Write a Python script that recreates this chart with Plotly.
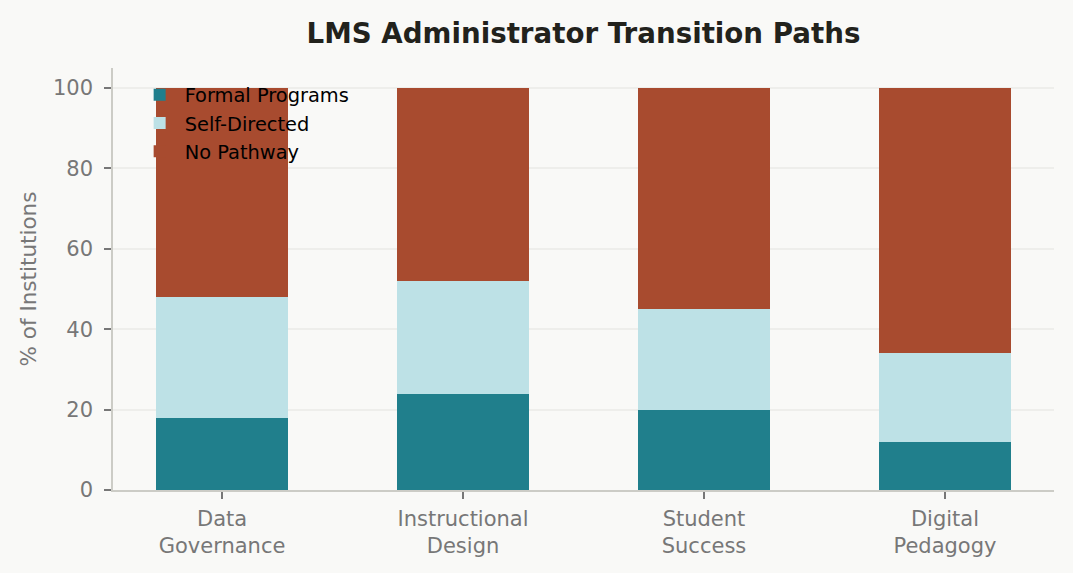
import plotly.graph_objects as go

categories = ["Data<br>Governance", "Instructional<br>Design", "Student<br>Success", "Digital<br>Pedagogy"]
formal_programs = [18, 24, 20, 12]
self_directed = [30, 28, 25, 22]
no_pathway = [52, 48, 55, 66]

series = [
    ("Formal Programs", formal_programs, "#207F8C"),
    ("Self-Directed", self_directed, "#BDE1E6"),
    ("No Pathway", no_pathway, "#A84B2F"),
]

fig = go.Figure()
for i, (name, vals, color) in enumerate(series):
    fig.add_trace(go.Bar(
        x=list(range(len(categories))), y=vals, name=name,
        marker=dict(color=color, line=dict(width=0)),
        width=0.55, legendgroup=f"g{i}",
    ))

fig.update_layout(
    barmode="stack",
    width=1073, height=573,
    margin=dict(l=113, r=19, t=68, b=83),
    paper_bgcolor="#F9F9F7", plot_bgcolor="#F9F9F7",
    font=dict(family="DejaVu Sans", color="#777777", size=21),
    title=dict(text="<b>LMS Administrator Transition Paths</b>", x=0.5, xanchor="center",
               xref="paper",
               y=1 - 33 / 573, yanchor="middle",
               font=dict(size=27.7, color="#22221C", family="DejaVu Sans")),
    legend=dict(x=0.023, y=0.982, xanchor="left", yanchor="top", bgcolor="rgba(0,0,0,0)",
                font=dict(size=19.4, color="#000000"), traceorder="normal",
                tracegroupgap=4, itemwidth=40),
    showlegend=True,
    bargap=0,
)
fig.update_xaxes(
    range=[-0.4525, 3.4525], tickmode="array", tickvals=list(range(len(categories))),
    ticktext=categories, ticks="outside", ticklen=7, tickwidth=1.5, tickcolor="#777777",
    showline=True, linecolor="#CCCCC6", linewidth=1.5, showgrid=False, zeroline=False,
    tickfont=dict(size=21, color="#777777"), ticklabelstandoff=2,
)
fig.update_yaxes(
    range=[0, 105], tickvals=[0, 20, 40, 60, 80, 100], ticks="outside", ticklen=7,
    tickwidth=1.5, tickcolor="#777777", showline=True, linecolor="#CCCCC6", linewidth=1.5,
    showgrid=True, gridcolor="rgba(225,225,220,0.45)", gridwidth=1.5, zeroline=False,
    layer="above traces", ticklabelstandoff=7,
    title=dict(text="% of Institutions", font=dict(size=21.5, color="#777777"), standoff=10),
    tickfont=dict(size=21, color="#777777"),
)

fig.write_html("out.html")
